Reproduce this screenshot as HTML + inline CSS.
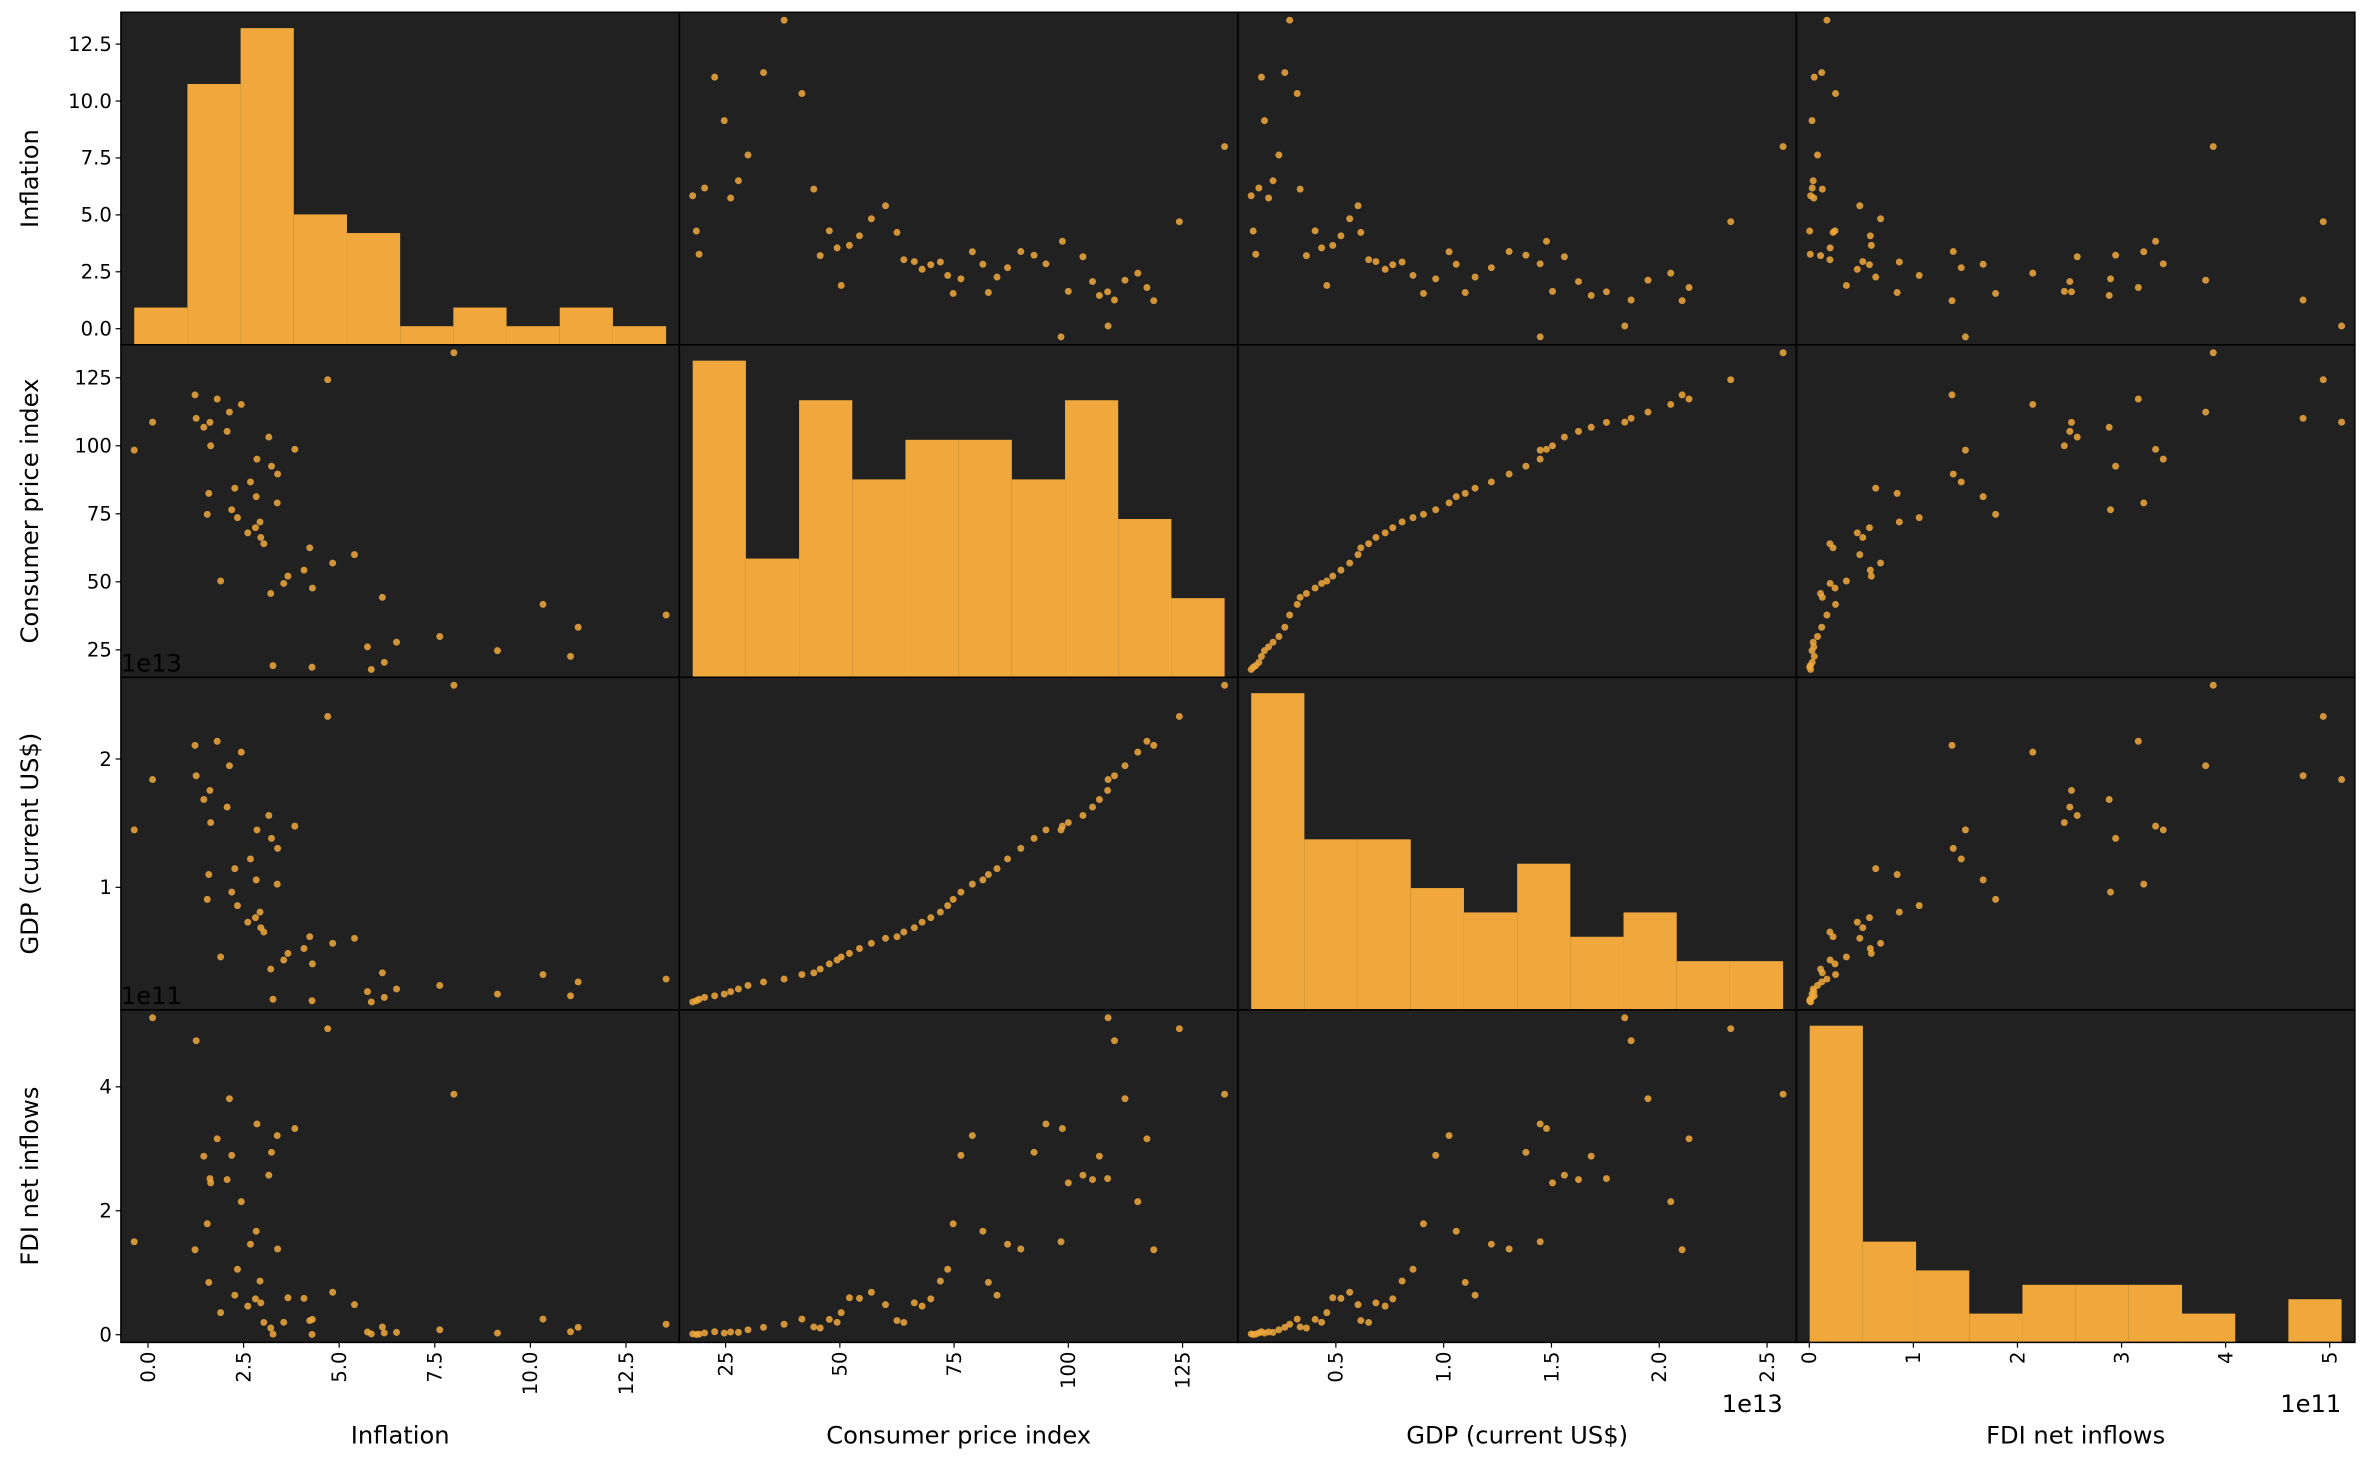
<!DOCTYPE html>
<html><head><meta charset="utf-8"><style>
html,body{margin:0;padding:0;background:#fff;}
svg{display:block;font-family:"DejaVu Sans","Liberation Sans",sans-serif;}
</style></head><body>
<svg id="chart" width="2370" height="1462" viewBox="0 0 1568 967" xmlns="http://www.w3.org/2000/svg"></svg>
<script>
const columns = ["Inflation","Consumer price index","GDP (current US$)","FDI net inflows"];
const inflation = [5.84,4.29,3.27,6.18,11.05,9.14,5.74,6.50,7.63,11.25,13.55,10.33,6.13,3.21,4.30,3.55,1.90,3.66,4.08,4.83,5.40,4.23,3.03,2.95,2.61,2.81,2.93,2.34,1.55,2.19,3.38,2.83,1.59,2.27,2.68,3.39,3.23,2.85,3.84,-0.36,1.64,3.16,2.07,1.46,1.62,0.12,1.26,2.13,2.44,1.81,1.23,4.70,8.00];
const cpi = [17.8,18.6,19.2,20.4,22.6,24.7,26.1,27.8,29.9,33.3,37.8,41.7,44.3,45.7,47.7,49.4,50.3,52.1,54.3,56.9,60.0,62.5,64.0,66.3,68.0,69.9,72.0,73.6,74.8,76.5,79.0,81.3,82.5,84.4,86.7,89.6,92.5,95.1,98.7,98.4,100,103.2,105.3,106.8,108.6,108.7,110.1,112.4,115.2,117.2,118.7,124.3,134.2];
const gdp = [1.073e12,1.165e12,1.283e12,1.429e12,1.549e12,1.689e12,1.878e12,2.086e12,2.357e12,2.632e12,2.857e12,3.207e12,3.343e12,3.634e12,4.037e12,4.339e12,4.580e12,4.855e12,5.236e12,5.642e12,6.03e12,6.158e12,6.520e12,6.858e12,7.287e12,7.640e12,8.073e12,8.578e12,9.063e12,9.631e12,10.251e12,10.582e12,11.0e12,11.458e12,12.214e12,13.037e12,13.815e12,14.475e12,14.770e12,14.478e12,15.049e12,15.600e12,16.254e12,16.843e12,17.551e12,18.4e12,18.695e12,19.477e12,20.533e12,21.381e12,21.060e12,23.315e12,25.744e12];
const fdi = [1.26e9,0.37e9,0.95e9,2.8e9,4.76e9,2.6e9,4.35e9,3.73e9,7.9e9,11.9e9,16.9e9,25.2e9,12.5e9,10.8e9,24.7e9,20.0e9,35.6e9,59.6e9,58.6e9,68.5e9,48.5e9,22.8e9,19.8e9,51.4e9,46.1e9,57.8e9,86.5e9,105.6e9,179.0e9,289.4e9,321.3e9,167.0e9,84.4e9,63.8e9,146.0e9,138.3e9,294.3e9,340.1e9,332.7e9,150e9,245e9,257.4e9,250.3e9,288.1e9,251.9e9,511.4e9,474.4e9,380.8e9,214.7e9,316.1e9,137.1e9,493.8e9,388.1e9];
const tickValues = [[0,2.5,5,7.5,10,12.5],[25,50,75,100,125],[0.5e13,1e13,1.5e13,2e13,2.5e13],[0,1e11,2e11,3e11,4e11,5e11]];
const yTickValues = [[0,2.5,5,7.5,10,12.5],[25,50,75,100,125],[1e13,2e13],[0,2e11,4e11]];
const tickLabels = [["0.0","2.5","5.0","7.5","10.0","12.5"],["25","50","75","100","125"],["0.5","1.0","1.5","2.0","2.5"],["0","1","2","3","4","5"]];
const yTickLabels = [["0.0","2.5","5.0","7.5","10.0","12.5"],["25","50","75","100","125"],["1","2"],["0","2","4"]];
const offsets = ["","","1e13","1e11"];

const data=[inflation,cpi,gdp,fdi];
const svg=document.getElementById('chart');
const NS="http://www.w3.org/2000/svg";
const X0=80,Y0=8,CW=369.5,CH=220,N=4;
function mk(tag,attrs,parent){const e=document.createElementNS(NS,tag);for(const k in attrs)e.setAttribute(k,attrs[k]);(parent||svg).appendChild(e);return e;}
const lims=data.map(d=>{const mn=Math.min(...d),mx=Math.max(...d),ext=(mx-mn)*0.025;return [mn-ext,mx+ext,mn,mx];});
function sx(j,v){return X0+j*CW+(v-lims[j][0])/(lims[j][1]-lims[j][0])*CW;}
function sy(i,v){return Y0+(i+1)*CH-(v-lims[i][0])/(lims[i][1]-lims[i][0])*CH;}

for(let i=0;i<N;i++)for(let j=0;j<N;j++){
  const g=mk('g',{});
  
  
  const bg=mk('rect',{x:X0+j*CW,y:Y0+i*CH,width:CW,height:CH,fill:'#212121'},g);
  
  
  if(i===j){
    const d=data[i],mn=lims[i][2],mx=lims[i][3],w=(mx-mn)/10;
    const counts=new Array(10).fill(0);
    d.forEach(v=>{let b=Math.floor((v-mn)/w);if(b>9)b=9;counts[b]++;});
    const top=Math.max(...counts)*1.05;
    counts.forEach((c,b)=>{
      const x1=sx(j,mn+b*w),x2=sx(j,mn+(b+1)*w),h=c/top*CH;
      const r=mk('rect',{x:x1,y:Y0+(i+1)*CH-h,width:x2-x1,height:h,fill:'#f0a83c'},g);
      
      
    });
  } else {
    for(let k=0;k<data[0].length;k++){
      const c=mk('circle',{cx:sx(j,data[j][k]),cy:sy(i,data[i][k]),r:2.3,fill:'#f0a83c','fill-opacity':0.85},g);
      
      
    }
  }
  const fr=mk('rect',{x:X0+j*CW,y:Y0+i*CH,width:CW,height:CH,fill:'none',stroke:'#000','stroke-width':1},g);
  
  
}
for(let i=0;i<N;i++){
  yTickValues[i].forEach((v,k)=>{
    const y=sy(i,v);
    const t=mk('line',{x1:X0-3.5,x2:X0,y1:y,y2:y,stroke:'#000','stroke-width':0.8});
    
    
    const tx=mk('text',{x:X0-6,y:y+4.5,'text-anchor':'end','font-size':13,fill:'#000'});
    tx.textContent=yTickLabels[i][k];
    
    
  });
  const lab=mk('text',{x:0,y:0,'text-anchor':'middle','font-size':16,fill:'#000',transform:`translate(25,${Y0+i*CH+CH/2}) rotate(-90)`});
  lab.textContent=columns[i];
  
  
  if(offsets[i]){
    const o=mk('text',{x:X0,y:Y0+i*CH-4,'font-size':16,fill:'#000'});
    o.textContent=offsets[i];
    
    
  }
}
const YB=Y0+N*CH;
for(let j=0;j<N;j++){
  tickValues[j].forEach((v,k)=>{
    const x=sx(j,v);
    const t=mk('line',{x1:x,x2:x,y1:YB,y2:YB+3.5,stroke:'#000','stroke-width':0.8});
    
    
    const tx=mk('text',{x:0,y:0,'text-anchor':'end','font-size':13,fill:'#000',transform:`translate(${x+4.5},${YB+6}) rotate(-90)`});
    tx.textContent=tickLabels[j][k];
    
    
  });
  const lab=mk('text',{x:X0+j*CW+CW/2,y:955,'text-anchor':'middle','font-size':16,fill:'#000'});
  lab.textContent=columns[j];
  
  
  if(offsets[j]){
    const o=mk('text',{x:X0+(j+1)*CW-9,y:934,'text-anchor':'end','font-size':16,fill:'#000'});
    o.textContent=offsets[j];
    
    
  }
}
</script>
</body></html>
